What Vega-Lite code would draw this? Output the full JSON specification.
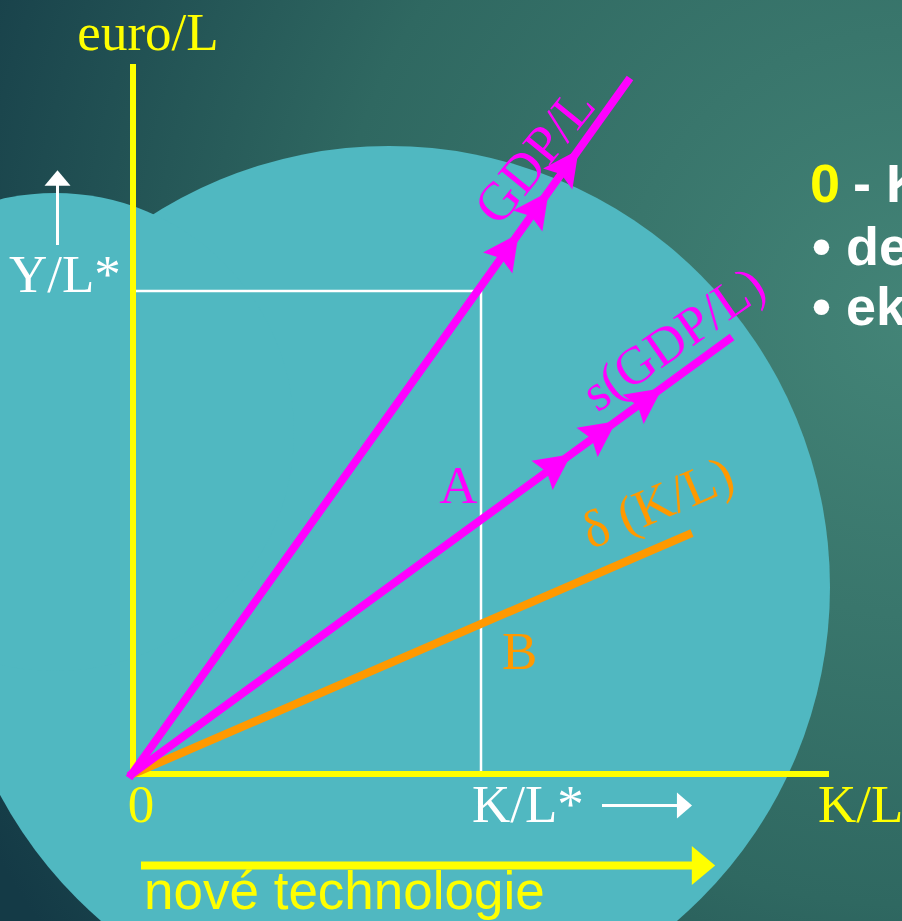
{
  "$schema": "https://vega.github.io/schema/vega-lite/v6.json",
  "width": 902,
  "height": 921,
  "autosize": {"type": "fit", "contains": "padding"},
  "padding": 0,
  "background": "#1f4d55",
  "config": {"view": {"stroke": null, "fill": null}},
  "encoding": {
    "x": {"field": "x", "type": "quantitative", "scale": {"domain": [-133, 769], "nice": false, "zero": false}, "axis": null},
    "y": {"field": "y", "type": "quantitative", "scale": {"domain": [-147, 774], "nice": false, "zero": false}, "axis": null}
  },
  "layer": [
    {
      "data": {"values": [{"x": -133, "x2": 769, "y": -147, "y2": 774}]},
      "mark": {"type": "rect", "fill": {"gradient": "radial", "x1": 1, "y1": 0.35, "r1": 0, "x2": 1, "y2": 0.35, "r2": 1.15,
        "stops": [{"offset": 0, "color": "#438477"}, {"offset": 0.55, "color": "#2f6861"}, {"offset": 1, "color": "#143a46"}]}, "strokeWidth": 0},
      "encoding": {"x2": {"field": "x2"}, "y2": {"field": "y2"}}
    },
    {
      "data": {"values": [{"x": 256, "y": 187}]},
      "mark": {"type": "point", "shape": "circle", "size": 777924, "filled": true, "fill": "#50b8c1", "opacity": 1, "strokeWidth": 0, "clip": true}
    },
    {
      "data": {"values": [{"x": -78, "y": 342}]},
      "mark": {"type": "point", "shape": "circle", "size": 228484, "filled": true, "fill": "#50b8c1", "opacity": 1, "strokeWidth": 0, "clip": true}
    },
    {
      "data": {"values": [{"x": 0, "y": 483, "x2": 348, "y2": 483}, {"x": 348, "y": 483, "x2": 348, "y2": 0}]},
      "mark": {"type": "rule", "stroke": "#ffffff", "strokeWidth": 2.5},
      "encoding": {"x2": {"field": "x2"}, "y2": {"field": "y2"}}
    },
    {
      "data": {"values": [{"x": 0, "y": 710, "x2": 0, "y2": -3}, {"x": -3, "y": 0, "x2": 696, "y2": 0}]},
      "mark": {"type": "rule", "stroke": "#ffff00", "strokeWidth": 6},
      "encoding": {"x2": {"field": "x2"}, "y2": {"field": "y2"}}
    },
    {
      "data": {"values": [{"x": 0, "y": 0, "x2": 559, "y2": 241}]},
      "mark": {"type": "rule", "stroke": "#ff9900", "strokeWidth": 8},
      "encoding": {"x2": {"field": "x2"}, "y2": {"field": "y2"}}
    },
    {
      "data": {"values": [{"x": -4, "y": -4, "x2": 497, "y2": 696}, {"x": -4, "y": -2, "x2": 599, "y2": 437}]},
      "mark": {"type": "rule", "stroke": "#ff00ff", "strokeWidth": 8},
      "encoding": {"x2": {"field": "x2"}, "y2": {"field": "y2"}}
    },
    {
      "data": {"values": [{"x": 374, "y": 524}, {"x": 404, "y": 566}, {"x": 434, "y": 608}]},
      "mark": {"type": "point", "shape": "M0,-1L0.9,0.8L0,0.5L-0.9,0.8Z", "size": 1600, "angle": 35.5, "filled": true, "fill": "#ff00ff", "opacity": 1, "strokeWidth": 0}
    },
    {
      "data": {"values": [{"x": 422, "y": 308}, {"x": 467, "y": 341}, {"x": 513, "y": 374}]},
      "mark": {"type": "point", "shape": "M0,-1L0.9,0.8L0,0.5L-0.9,0.8Z", "size": 1600, "angle": 54, "filled": true, "fill": "#ff00ff", "opacity": 1, "strokeWidth": 0}
    },
    {
      "data": {"values": [{"x": -75.5, "y": 529, "x2": -75.5, "y2": 590}, {"x": 469, "y": -31.5, "x2": 547, "y2": -31.5}]},
      "mark": {"type": "rule", "stroke": "#ffffff", "strokeWidth": 3},
      "encoding": {"x2": {"field": "x2"}, "y2": {"field": "y2"}}
    },
    {
      "data": {"values": [{"x": -75.5, "y": 596}]},
      "mark": {"type": "point", "shape": "M0,-0.6L1,0.6L-1,0.6Z", "size": 676, "filled": true, "fill": "#ffffff", "opacity": 1, "strokeWidth": 0}
    },
    {
      "data": {"values": [{"x": 551.5, "y": -31.5}]},
      "mark": {"type": "point", "shape": "M0.58,0L-0.58,-1L-0.58,1Z", "size": 676, "filled": true, "fill": "#ffffff", "opacity": 1, "strokeWidth": 0}
    },
    {
      "data": {"values": [{"x": 8, "y": -91.5, "x2": 560, "y2": -91.5}]},
      "mark": {"type": "rule", "stroke": "#ffff00", "strokeWidth": 8},
      "encoding": {"x2": {"field": "x2"}, "y2": {"field": "y2"}}
    },
    {
      "data": {"values": [{"x": 570.5, "y": -91.5}]},
      "mark": {"type": "point", "shape": "M0.6,0L-0.6,-1L-0.6,1Z", "size": 1521, "filled": true, "fill": "#ffff00", "opacity": 1, "strokeWidth": 0}
    },
    {
      "data": {"values": [{"x": 15, "y": 724, "label": "euro/L"}, {"x": 8, "y": -48, "label": "0"}]},
      "mark": {"type": "text", "font": "Liberation Serif", "fontSize": 53, "align": "center", "baseline": "alphabetic", "fill": "#ffff00", "clip": true},
      "encoding": {"text": {"field": "label"}}
    },
    {
      "data": {"values": [{"x": 685, "y": -48, "label": "K/L"}]},
      "mark": {"type": "text", "font": "Liberation Serif", "fontSize": 53, "align": "left", "baseline": "alphabetic", "fill": "#ffff00", "clip": true},
      "encoding": {"text": {"field": "label"}}
    },
    {
      "data": {"values": [{"x": -124, "y": 482, "label": "Y/L*"}, {"x": 339, "y": -48, "label": "K/L*"}]},
      "mark": {"type": "text", "font": "Liberation Serif", "fontSize": 53, "align": "left", "baseline": "alphabetic", "fill": "#ffffff", "clip": true},
      "encoding": {"text": {"field": "label"}}
    },
    {
      "data": {"values": [{"x": 325.5, "y": 271, "label": "A"}]},
      "mark": {"type": "text", "font": "Liberation Serif", "fontSize": 53, "align": "center", "baseline": "alphabetic", "fill": "#ff00ff"},
      "encoding": {"text": {"field": "label"}}
    },
    {
      "data": {"values": [{"x": 369, "y": 105, "label": "B"}]},
      "mark": {"type": "text", "font": "Liberation Serif", "fontSize": 53, "align": "left", "baseline": "alphabetic", "fill": "#ff9900"},
      "encoding": {"text": {"field": "label"}}
    },
    {
      "data": {"values": [{"x": 403, "y": 617, "label": "GDP/L"}]},
      "mark": {"type": "text", "font": "Liberation Serif", "fontSize": 54, "align": "center", "baseline": "middle", "angle": -51, "fill": "#ff00ff"},
      "encoding": {"text": {"field": "label"}}
    },
    {
      "data": {"values": [{"x": 541, "y": 434, "label": "s(GDP/L)"}]},
      "mark": {"type": "text", "font": "Liberation Serif", "fontSize": 53, "align": "center", "baseline": "middle", "angle": -35, "fill": "#ff00ff"},
      "encoding": {"text": {"field": "label"}}
    },
    {
      "data": {"values": [{"x": 525, "y": 270, "label": "δ (K/L)"}]},
      "mark": {"type": "text", "font": "Liberation Serif", "fontSize": 53, "align": "center", "baseline": "middle", "angle": -23, "fill": "#ff9900"},
      "encoding": {"text": {"field": "label"}}
    },
    {
      "data": {"values": [{"x": 677, "y": 572, "label": "0"}]},
      "mark": {"type": "text", "font": "Liberation Sans", "fontSize": 54, "fontWeight": "bold", "align": "left", "baseline": "alphabetic", "fill": "#ffff00", "clip": true},
      "encoding": {"text": {"field": "label"}}
    },
    {
      "data": {"values": [{"x": 720, "y": 572, "label": "- K/L"}, {"x": 679, "y": 509, "label": "• dep"}, {"x": 679, "y": 449, "label": "• eko"}]},
      "mark": {"type": "text", "font": "Liberation Sans", "fontSize": 54, "fontWeight": "bold", "align": "left", "baseline": "alphabetic", "fill": "#ffffff", "clip": true},
      "encoding": {"text": {"field": "label"}}
    },
    {
      "data": {"values": [{"x": 11, "y": -135, "label": "nové technologie"}]},
      "mark": {"type": "text", "font": "Liberation Sans", "fontSize": 53, "align": "left", "baseline": "alphabetic", "fill": "#ffff00", "clip": true},
      "encoding": {"text": {"field": "label"}}
    }
  ]
}
